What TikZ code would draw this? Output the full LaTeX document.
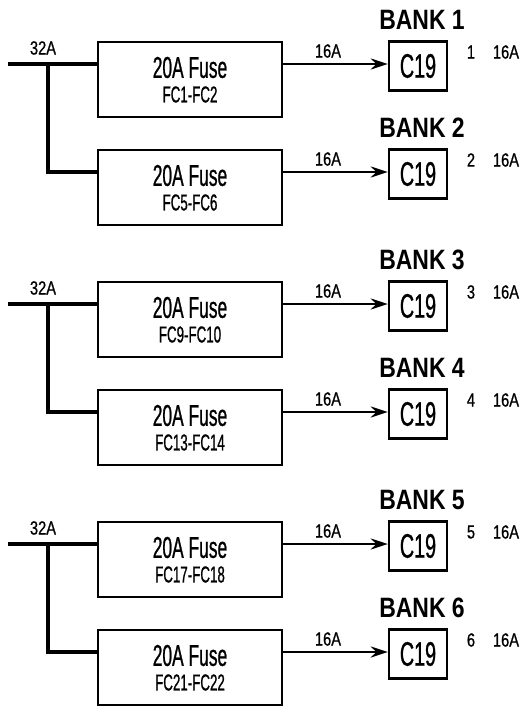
\documentclass[tikz,border=0pt]{standalone}
\usepackage{fontspec}
\usetikzlibrary{arrows.meta}

\newfontfamily\fusefont[FakeStretch=0.58, FakeBold=0.8]{Liberation Sans}
\newfontfamily\ampfont[FakeStretch=0.77, FakeBold=0.8]{Liberation Sans}
\newfontfamily\bankfont[FakeStretch=0.82]{Liberation Sans}

\begin{document}
\begin{tikzpicture}[x=1pt, y=-1pt,
  fusebox/.style={draw, line width=2.4pt, minimum width=184pt, minimum height=75pt, inner sep=0pt},
  plugbox/.style={draw, line width=2.4pt, minimum width=58pt, minimum height=49pt, inner sep=0pt,
    font=\fusefont\fontsize{34}{34}\selectfont},
  fusetitle/.style={inner sep=0pt, font=\fusefont\fontsize{30}{30}\selectfont},
  fuseref/.style={inner sep=0pt, font=\fusefont\fontsize{23}{23}\selectfont},
  ampere/.style={inner sep=0pt, font=\ampfont\fontsize{19}{19}\selectfont},
  banklabel/.style={inner sep=0pt, font=\bankfont\bfseries\fontsize{28}{28}\selectfont},
  feed/.style={line width=4.5pt},
  lead/.style={line width=2.5pt, -{Stealth[length=17pt, width=11pt]}}]

\useasboundingbox (0,0) rectangle (521,707);

% one fuse, one outlet per bank; two banks share one 32A feed
\foreach \n/\fa/\fb in {1/1/2, 2/5/6, 3/9/10, 4/13/14, 5/17/18, 6/21/22} {
  \pgfmathsetmacro\wy{64 + 240*int((\n-1)/2) + 108*mod(\n-1,2)}
  \coordinate (w\n) at (98,\wy);

  \node[fusebox] (fuse\n) at (190,\wy+15.5) {};
  \node[fusetitle] (title\n) at (190,\wy+3.5) {20A Fuse};
  \node[fuseref] (ref\n) at (190,\wy+30.5) {FC\fa-FC\fb};

  \node[plugbox] (plug\n) at (418,\wy+2) {C19};
  \node[banklabel] (bank\n) at (422,\wy-44) {BANK \n};
  \node[ampere] (out\n) at (328,\wy-13) {16A};
  \node[ampere] (num\n) at (471,\wy-12) {\n};
  \node[ampere] (load\n) at (506,\wy-12) {16A};

  \draw[lead] (fuse\n.east |- w\n) -- (plug\n.west |- w\n);

  \ifodd\n\relax
    % incoming feed and its split
    \coordinate (src\n) at (8,\wy);
    \coordinate (split\n) at (48,\wy);
    \node[ampere] (feed\n) at (43,\wy-16) {32A};
    \draw[feed] (src\n) -- (w\n);
  \else
    \pgfmathtruncatemacro\m{\n-1}
    \draw[feed] (split\m) |- (w\n);
  \fi
}

\end{tikzpicture}
\end{document}
